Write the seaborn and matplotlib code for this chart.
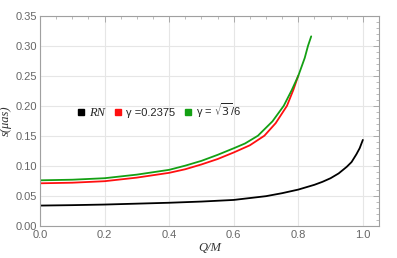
import numpy as np
import pandas as pd
import matplotlib
matplotlib.use("Agg")
import matplotlib.pyplot as plt
import seaborn as sns
from matplotlib.lines import Line2D
from matplotlib.ticker import MultipleLocator, FormatStrFormatter

# values
q_rn = [0.0, 0.1, 0.2, 0.3, 0.4, 0.5, 0.6, 0.7, 0.75, 0.8, 0.85, 0.875, 0.9,
        0.925, 0.95, 0.965, 0.98, 0.99, 1.0]
s_rn = [0.0333, 0.034, 0.035, 0.0365, 0.038, 0.040, 0.0427, 0.049, 0.054, 0.060,
        0.068, 0.073, 0.079, 0.087, 0.098, 0.106, 0.119, 0.129, 0.143]

q_red = [0.0, 0.1, 0.2, 0.3, 0.4, 0.45, 0.5, 0.55, 0.6, 0.65, 0.695, 0.73,
         0.765, 0.785, 0.80]
s_red = [0.0705, 0.0715, 0.074, 0.080, 0.088, 0.094, 0.102, 0.111, 0.122, 0.134,
         0.150, 0.171, 0.200, 0.227, 0.2505]

q_green = [0.0, 0.1, 0.2, 0.3, 0.4, 0.45, 0.5, 0.55, 0.6, 0.635, 0.675, 0.72,
           0.755, 0.78, 0.80, 0.82, 0.83, 0.84]
s_green = [0.0755, 0.0765, 0.079, 0.085, 0.093, 0.100, 0.108, 0.118, 0.129, 0.137,
           0.150, 0.174, 0.200, 0.2265, 0.250, 0.280, 0.300, 0.316]

names = ["RN", "red", "green"]
colors = {"RN": "black", "red": "#ff1010", "green": "#14a014"}

df = pd.concat([
    pd.DataFrame({"Q": q_rn, "s": s_rn, "curve": "RN"}),
    pd.DataFrame({"Q": q_red, "s": s_red, "curve": "red"}),
    pd.DataFrame({"Q": q_green, "s": s_green, "curve": "green"}),
])

sns.set_style("white")
plt.rcParams["font.family"] = ["Liberation Sans", "DejaVu Sans"]
plt.rcParams["mathtext.fontset"] = "dejavusans"

fig = plt.figure(figsize=(3.97, 2.58), dpi=100)
ax = fig.add_axes([40 / 397, 32.5 / 258, 339 / 397, 209.5 / 258])

sns.lineplot(data=df, x="Q", y="s", hue="curve", palette=colors, sort=False,
             estimator=None, legend=False, linewidth=1.3, ax=ax)

ax.set_xlim(0, 1.05)
ax.set_ylim(0, 0.35)
ax.xaxis.set_major_locator(MultipleLocator(0.2))
ax.xaxis.set_minor_locator(MultipleLocator(0.05))
ax.yaxis.set_major_locator(MultipleLocator(0.05))
ax.yaxis.set_minor_locator(MultipleLocator(0.01))
ax.xaxis.set_major_formatter(FormatStrFormatter("%.1f"))
ax.yaxis.set_major_formatter(FormatStrFormatter("%.2f"))
ax.grid(True, which="major", color="#e6e6e6", linewidth=0.8)
ax.set_axisbelow(True)

for sp in ax.spines.values():
    sp.set_color("#a0a0a0")
    sp.set_linewidth(0.8)
ax.tick_params(which="both", direction="in", top=True, right=True,
               color="#a0a0a0", labelcolor="#666666", labelsize=8)
ax.tick_params(which="major", length=4, width=0.6, pad=2)
ax.tick_params(axis="x", which="major", pad=3)
ax.tick_params(which="minor", length=2, width=0.5)

ax.set_xlabel("Q/M", family="Liberation Serif", style="italic", fontsize=9,
              color="#333333", labelpad=2)
ax.set_ylabel("s(μas)", family="Liberation Serif", style="italic", fontsize=9,
              color="#333333")
ax.yaxis.set_label_coords(-0.082, 0.5)

handles = [Line2D([], [], marker="s", linestyle="none", markersize=5,
                  color=colors[n]) for n in names]
labels = ["RN", "γ =0.2375", r"γ = $\sqrt{3}$/6"]
leg = ax.legend(handles, labels, ncol=3, frameon=False, loc="center left",
                bbox_to_anchor=(0.075, 0.55), handletextpad=0.2,
                columnspacing=0.7, handlelength=1.0, fontsize=8)
leg.get_texts()[0].set_family("Liberation Serif")
leg.get_texts()[0].set_style("italic")
leg.get_texts()[0].set_fontsize(9)

fig.savefig("out.png", dpi=100)
